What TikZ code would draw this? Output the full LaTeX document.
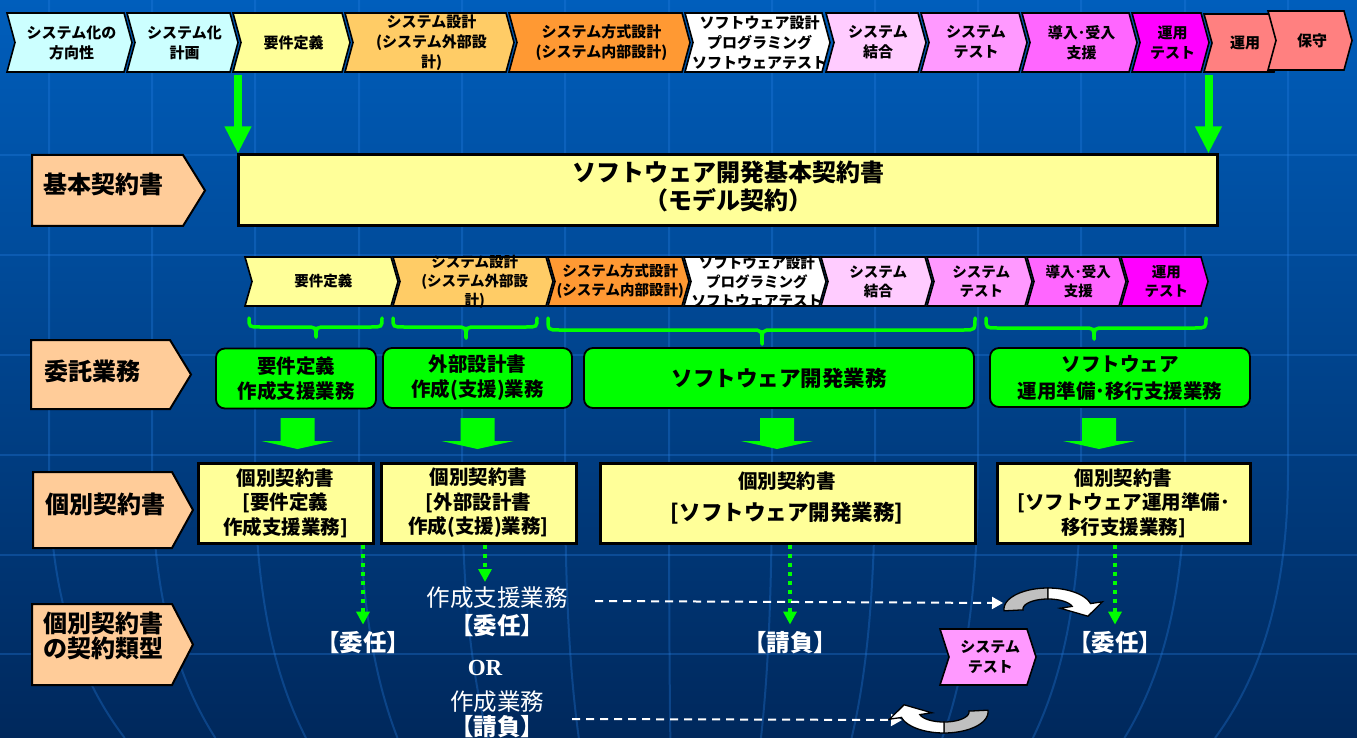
\documentclass[tikz,border=0pt]{standalone}
\usepackage{fontspec}
\setmainfont{Noto Sans CJK JP}
\newfontfamily\orfont{Liberation Serif}
\usetikzlibrary{arrows.meta}

\definecolor{bgtop}{RGB}{0,94,188}
\definecolor{bgmid}{RGB}{0,84,170}
\definecolor{bgbot}{RGB}{0,40,92}
\definecolor{lcyan}{RGB}{204,255,255}
\definecolor{lyel}{RGB}{255,255,153}
\definecolor{lora}{RGB}{255,204,102}
\definecolor{ora}{RGB}{255,153,51}
\definecolor{lpink}{RGB}{255,204,255}
\definecolor{pinka}{RGB}{255,153,255}
\definecolor{pinkb}{RGB}{255,102,255}
\definecolor{mag}{RGB}{255,0,255}
\definecolor{salmon}{RGB}{255,128,128}
\definecolor{peach}{RGB}{255,204,153}
\definecolor{lime}{RGB}{0,255,0}
\definecolor{curvegray}{RGB}{192,192,192}
\definecolor{gridc}{RGB}{40,130,230}

\tikzset{
  chevline/.style={draw=black, line width=1.6pt},
  chevtext/.style={font=\bfseries\fontsize{15}{20}\selectfont, align=center, inner sep=0pt, text=black},
  chevtextb/.style={font=\bfseries\fontsize{14.5}{19}\selectfont, align=center, inner sep=0pt, text=black},
  peachlabel/.style={draw=black, line width=2pt, fill=peach},
  labeltext/.style={font=\bfseries\fontsize{24}{25.5}\selectfont, anchor=west, inner sep=0pt, align=left},
  ybox/.style={draw=black, line width=3pt, fill=lyel, inner sep=0pt, align=center, font=\bfseries\fontsize{19.5}{24.5}\selectfont},
  gbox/.style={draw=black, line width=1.8pt, fill=lime, rounded corners=9pt, inner sep=0pt, align=center, font=\bfseries\fontsize{19.5}{25}\selectfont},
  greenarrow/.style={draw=lime, line width=8pt, -{Triangle[width=25pt,length=27pt]}},
  dotarrow/.style={draw=lime, line width=4.5pt, dash pattern=on 4.5pt off 4.5pt, -{Triangle[width=13pt,length=13pt]}},
  dasharrow/.style={draw=white, line width=2pt, dash pattern=on 8pt off 6pt, -{Triangle[width=12pt,length=11pt]}},
  whitetext/.style={text=white, inner sep=0pt, font=\fontsize{23.5}{26}\selectfont},
  whitebold/.style={text=white, inner sep=0pt, font=\bfseries\fontsize{23.5}{26}\selectfont},
  gridline/.style={draw=gridc, line width=2pt, opacity=0.3},
  bracestyle/.style={draw=lime, line width=3.5pt, line cap=round},
}

% name, x1, x2, y1, y2, depth, fill, textstyle, text
\newcommand{\mychev}[9]{%
  \draw[chevline, fill=#7] (#2,#4) -- ({#3-#6},#4) -- (#3,{(#4+#5)/2}) -- ({#3-#6},#5) -- (#2,#5) -- ({#2+#6},{(#4+#5)/2}) -- cycle;
  \node[#8] (#1) at ({(#2+#3)/2+#6/4},{(#4+#5)/2}) {#9};
}
% x1, xflat, xtip, y1, y2
\newcommand{\mypeach}[5]{%
  \draw[peachlabel] (#1,#4) -- (#2,#4) -- (#3,{(#4+#5)/2}) -- (#2,#5) -- (#1,#5) -- cycle;
}
% center x
\newcommand{\myblock}[1]{%
  \fill[lime] ({#1-17},418) -- ({#1+17},418) -- ({#1+17},441) -- ({#1+36},441) -- (#1,449) -- ({#1-36},441) -- ({#1-17},441) -- cycle;
}
% xa, xm, xb, ytop, ymid, ytip
\newcommand{\mybrace}[6]{%
  \draw[bracestyle] (#1,#4) .. controls (#1,#5) .. ({#1+11},#5) -- ({#2-11},#5) .. controls (#2,#5) .. (#2,#6);
  \draw[bracestyle] (#3,#4) .. controls (#3,#5) .. ({#3-11},#5) -- ({#2+11},#5) .. controls (#2,#5) .. (#2,#6);
}
\newcommand{\mycurve}[1]{%
  \begin{scope}[#1]
    \filldraw[fill=curvegray, draw=black, line width=1.3pt]
      plot[domain=185:90, samples=24] ({44*cos(\x)},{-21*sin(\x)})
      -- plot[domain=90:185, samples=24] ({25*cos(\x)},{-10*sin(\x)}) -- cycle;
    \filldraw[fill=white, draw=black, line width=1.3pt]
      plot[domain=90:15, samples=24] ({44*cos(\x)},{-21*sin(\x)})
      -- (54.5,-7.2) -- (39.9,7.2) -- (12.1,-0.8)
      -- plot[domain=15:90, samples=24] ({25*cos(\x)},{-10*sin(\x)}) -- cycle;
  \end{scope}
}

\begin{document}
\begin{tikzpicture}[x=1pt, y=-1pt]
\useasboundingbox (0,0) rectangle (1357,738);
% background
\shade[top color=bgtop, middle color=bgmid, bottom color=bgbot] (0,0) rectangle (1357,738);
\foreach \gy in {155,255,355,455,555,654} \draw[gridline] (0,\gy) -- (1357,\gy);
\foreach \gx in {49,152,255,359,462,565,669,772,875,978,1081,1185,1288}
  \draw[gridline] (\gx,0) -- (\gx,470) .. controls (\gx,600) and ({680+(\gx-680)*0.95},680) .. ({680+(\gx-680)*0.88},738);

% top row of phases
\mychev{t1}{7}{132}{13}{72}{8}{lcyan}{chevtext}{システム化の\\方向性}
\mychev{t2}{127}{238}{13}{72}{8}{lcyan}{chevtext}{システム化\\計画}
\mychev{t3}{233}{350}{13}{72}{8}{lyel}{chevtext}{要件定義}
\mychev{t4}{345}{514}{13}{72}{8}{lora}{chevtext}{システム設計\\(システム外部設\\計)}
\mychev{t5}{509}{690}{13}{72}{8}{ora}{chevtext}{システム方式設計\\(システム内部設計)}
\mychev{t6}{685}{830}{13}{72}{8}{white}{chevtext}{ソフトウェア設計\\プログラミング\\ソフトウェアテスト}
\mychev{t7}{826}{926}{13}{72}{8}{lpink}{chevtext}{システム\\結合}
\mychev{t8}{921}{1027}{13}{72}{8}{pinka}{chevtext}{システム\\テスト}
\mychev{t9}{1022}{1137}{13}{72}{8}{pinkb}{chevtext}{導入･受入\\支援}
\mychev{t10}{1132}{1209}{13}{72}{8}{mag}{chevtext}{運用\\テスト}
\mychev{t11}{1204}{1282}{14}{72}{8}{salmon}{chevtext}{運用}
\mychev{t12}{1268}{1352}{11}{70}{8}{salmon}{chevtext}{保守}

% basic contract
\mypeach{32}{183}{205}{155}{226}
\node[labeltext] (lk) at (43,184) {基本契約書};
\node[draw=black, line width=3pt, fill=lyel, minimum width=979pt, minimum height=71pt, inner sep=0pt] (kihon) at (727.5,190.5) {};
\node[font=\bfseries\fontsize{24}{28}\selectfont, align=center, inner sep=0pt] (kihont) at (728,186) {ソフトウェア開発基本契約書\\（モデル契約）};
\coordinate (a1s) at (238,75);
\coordinate (a2s) at (1208.5,75);
\draw[greenarrow] (a1s) -- (a1s |- kihon.north);
\draw[greenarrow] (a2s) -- (a2s |- kihon.north);

% second row of phases
\mychev{s1}{245}{398}{257}{306}{7}{lyel}{chevtextb}{要件定義}
\mychev{s2}{393}{553}{257}{306}{7}{lora}{chevtextb}{システム設計\\(システム外部設\\計)}
\mychev{s3}{548}{689}{257}{306}{7}{ora}{chevtextb}{システム方式設計\\(システム内部設計)}
\mychev{s4}{684}{826}{257}{306}{7}{white}{chevtextb}{ソフトウェア設計\\プログラミング\\ソフトウェアテスト}
\mychev{s5}{821}{932}{257}{306}{7}{lpink}{chevtextb}{システム\\結合}
\mychev{s6}{927}{1032}{257}{306}{7}{pinka}{chevtextb}{システム\\テスト}
\mychev{s7}{1027}{1126}{257}{306}{7}{pinkb}{chevtextb}{導入･受入\\支援}
\mychev{s8}{1121}{1208}{257}{306}{7}{mag}{chevtextb}{運用\\テスト}

% braces
\mybrace{249}{316}{382}{318}{327}{337}
\mybrace{393}{466}{537}{318}{327}{338}
\mybrace{548}{762}{975}{318}{330}{344}
\mybrace{986}{1094}{1206}{318}{328}{339}

% entrusted work
\mypeach{31}{170}{191}{340}{409}
\node[labeltext] (li) at (44,371) {委託業務};
\node[gbox, minimum width=160pt, minimum height=60pt] (g1) at (296,378.5) {要件定義\\作成支援業務};
\node[gbox, minimum width=189pt, minimum height=60pt] (g2) at (477.5,378) {外部設計書\\作成(支援)業務};
\node[gbox, minimum width=390pt, minimum height=60pt, font=\bfseries\fontsize{21.5}{25}\selectfont] (g3) at (779,378) {ソフトウェア開発業務};
\node[gbox, minimum width=260pt, minimum height=59pt, font=\bfseries\fontsize{19.5}{27}\selectfont] (g4) at (1120,377.5) {ソフトウェア\\運用準備･移行支援業務};

\myblock{297.5}
\myblock{477.5}
\myblock{777}
\myblock{1099}

% individual contracts
\mypeach{33}{172}{193}{472}{548}
\node[labeltext] (lb) at (45,504) {個別契約書};
\node[ybox, minimum width=175pt, minimum height=80pt] (y1) at (285.5,503) {個別契約書\\{[}要件定義\\作成支援業務{]}};
\node[ybox, minimum width=195pt, minimum height=80pt] (y2) at (478.5,503) {個別契約書\\{[}外部設計書\\作成(支援)業務{]}};
\node[ybox, minimum width=375pt, minimum height=80pt] (y3) at (787.5,503) {};
\node[font=\bfseries\fontsize{19.5}{24}\selectfont, inner sep=0pt] (y3a) at (787,481) {個別契約書};
\node[font=\bfseries\fontsize{21.5}{24}\selectfont, inner sep=0pt] (y3b) at (787,513) {{[}ソフトウェア開発業務{]}};
\node[ybox, minimum width=253pt, minimum height=80pt] (y4) at (1123.5,503) {個別契約書\\{[}ソフトウェア運用準備･\\移行支援業務{]}};

% contract types
\mypeach{32}{172}{193}{604}{685}
\node[labeltext] (lr) at (43,636) {個別契約書\\の契約類型};

\node[whitebold] (inin1) at (363,643) {【委任】};
\node[whitetext] (shien) at (497,598) {作成支援業務};
\node[whitebold] (inin2) at (497,626) {【委任】};
\node[text=white, inner sep=0pt, font=\orfont\bfseries\fontsize{23}{26}\selectfont] (orw) at (485,668) {OR};
\node[whitetext] (sgyo) at (497,702) {作成業務};
\node[whitebold] (ukeoi2) at (497,727) {【請負】};
\node[whitebold] (ukeoi1) at (790,643) {【請負】};
\node[whitebold] (inin3) at (1115,643) {【委任】};

\coordinate (d2e) at (485,582);
\draw[dotarrow, shorten >=7pt] (y1.south -| inin1.north) -- (inin1.north);
\draw[dotarrow] (y2.south -| d2e) -- (d2e);
\draw[dotarrow, shorten >=7pt] (y3.south -| ukeoi1.north) -- (ukeoi1.north);
\draw[dotarrow, shorten >=7pt] (y4.south -| inin3.north) -- (inin3.north);

\coordinate (e1s) at (595,601);
\coordinate (e1e) at (1003,603);
\coordinate (e2s) at (572,719);
\coordinate (e2e) at (902,720);
\draw[dasharrow] (e1s) -- (e1e);
\draw[dasharrow] (e2s) -- (e2e);

\mycurve{shift={(1048,609)}}
\mycurve{shift={(944,712)}, rotate=180}

\mychev{st}{940}{1036}{629}{685}{9}{pinka}{chevtext}{システム\\テスト}
\end{tikzpicture}
\end{document}
